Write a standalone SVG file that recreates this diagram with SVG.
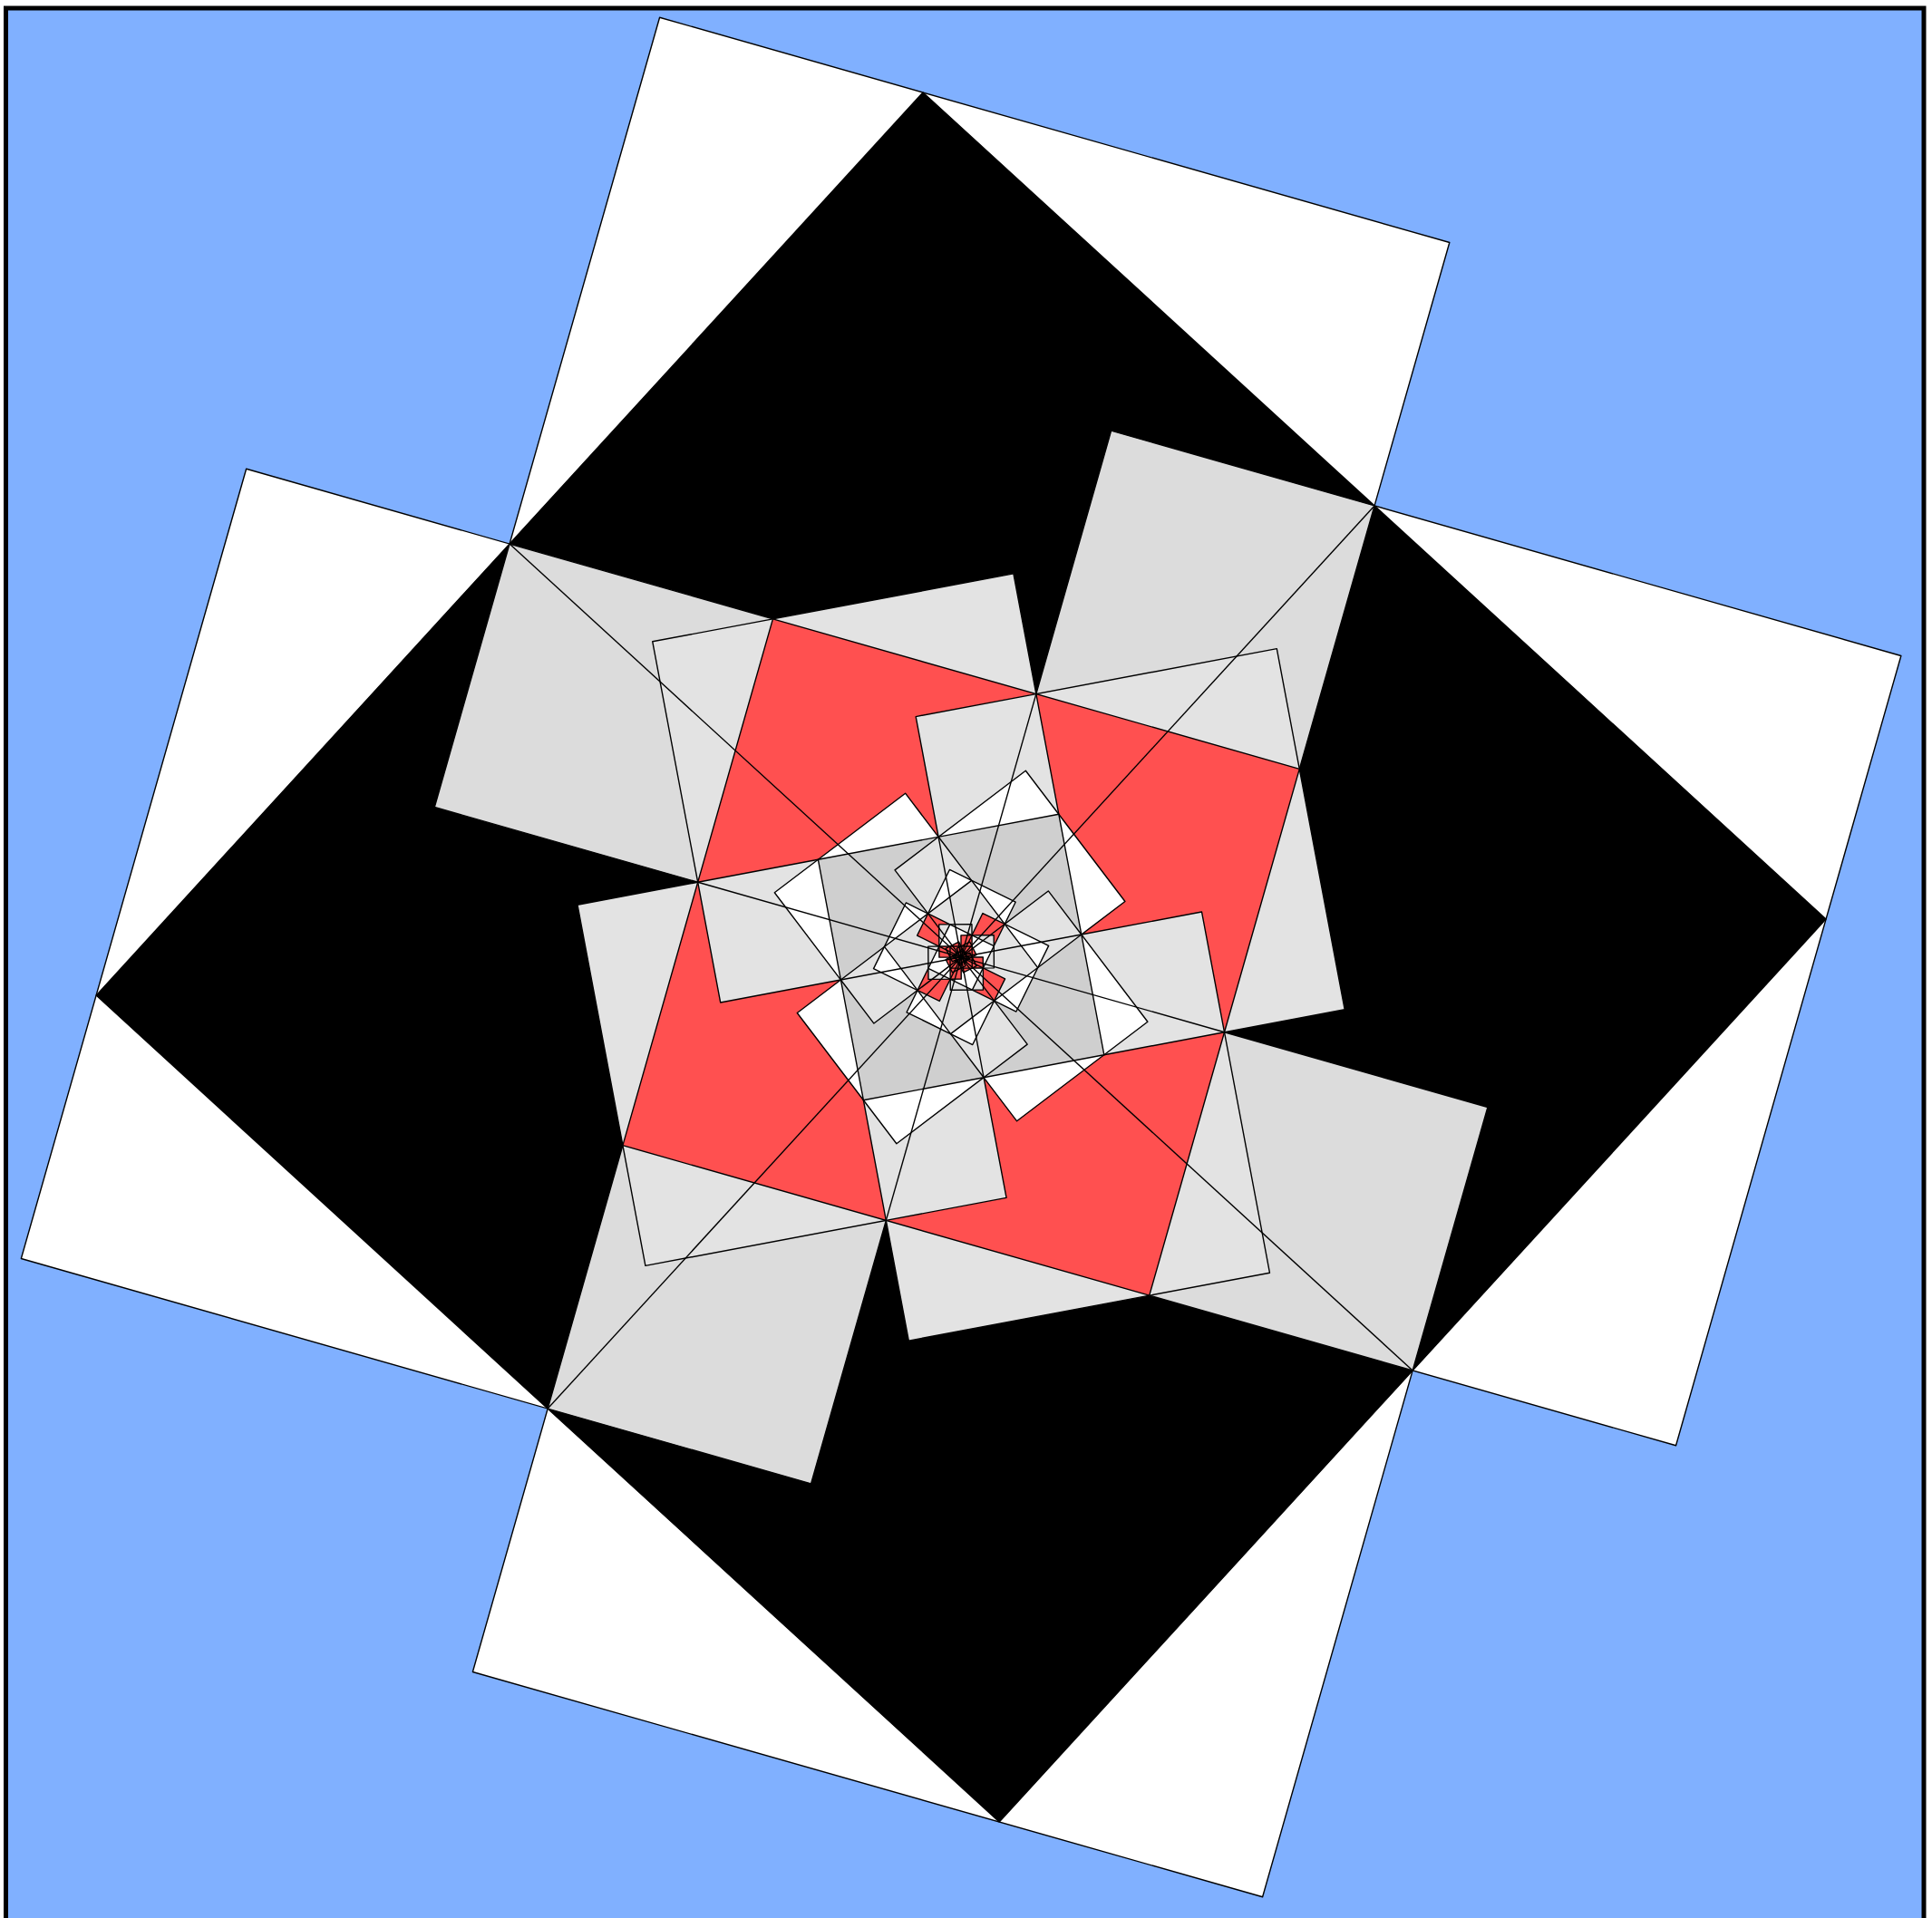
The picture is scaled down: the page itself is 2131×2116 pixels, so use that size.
<svg xmlns="http://www.w3.org/2000/svg" width="2131" height="2116" viewBox="0 0 2131 2116">
<style>
polygon, line { stroke:#000; stroke-width:1.4; vector-effect:non-scaling-stroke; stroke-linejoin:round; }
line { fill:none; }
.w { fill:#ffffff; }
.k { fill:#000000; }
.g { fill:#dcdcdc; }
.l { fill:#e3e3e3; }
.m { fill:#cfcfcf; }
.r { fill:#ff5050; }
</style>
<rect x="0" y="0" width="2131" height="2116" fill="#ffffff"/>
<rect id="frame" x="6.5" y="9" width="2115.5" height="2125" fill="#80b0ff" stroke="#000" stroke-width="5"/>
<g id="level-0" transform="matrix(95.40,-4.21,4.21,95.40,1060.1,1056)">
<polygon class="w" points="-3,-11 6,-8 3,1 -6,-2"/>
<polygon class="w" points="11,-3 8,6 -1,3 2,-6"/>
<polygon class="w" points="3,11 -6,8 -3,-1 6,2"/>
<polygon class="w" points="-11,3 -8,-6 1,-3 -2,6"/>
<polygon class="k" points="0,-10 10,0 0,10 -10,0"/>
<polygon class="g" points="-5,-5 -2,-4 -3,-1 -6,-2"/>
<polygon class="g" points="5,-5 4,-2 1,-3 2,-6"/>
<polygon class="g" points="5,5 2,4 3,1 6,2"/>
<polygon class="g" points="-5,5 -4,2 -1,3 -2,6"/>
</g>
<g id="level-1" transform="matrix(37.318,-20.764,20.764,37.318,1060.1,1056)">
<polygon class="l" points="-3,-11 6,-8 3,1 -6,-2"/>
<polygon class="l" points="11,-3 8,6 -1,3 2,-6"/>
<polygon class="l" points="3,11 -6,8 -3,-1 6,2"/>
<polygon class="l" points="-11,3 -8,-6 1,-3 -2,6"/>
<polygon class="r" points="0,-10 10,0 0,10 -10,0"/>
<polygon class="l" points="-5,-5 -2,-4 -3,-1 -6,-2"/>
<polygon class="l" points="5,-5 4,-2 1,-3 2,-6"/>
<polygon class="l" points="5,5 2,4 3,1 6,2"/>
<polygon class="l" points="-5,5 -4,2 -1,3 -2,6"/>
</g>
<g id="level-2" transform="matrix(10.774,-15.769,15.769,10.774,1060.1,1056)">
<polygon class="w" points="-3,-11 6,-8 3,1 -6,-2"/>
<polygon class="w" points="11,-3 8,6 -1,3 2,-6"/>
<polygon class="w" points="3,11 -6,8 -3,-1 6,2"/>
<polygon class="w" points="-11,3 -8,-6 1,-3 -2,6"/>
<polygon class="m" points="0,-10 10,0 0,10 -10,0"/>
<polygon class="l" points="-5,-5 -2,-4 -3,-1 -6,-2"/>
<polygon class="l" points="5,-5 4,-2 1,-3 2,-6"/>
<polygon class="l" points="5,5 2,4 3,1 6,2"/>
<polygon class="l" points="-5,5 -4,2 -1,3 -2,6"/>
</g>
<g id="level-3" transform="matrix(1.1558,-8.4624,8.4624,1.1558,1060.1,1056)">
<polygon class="w" points="-3,-11 6,-8 3,1 -6,-2"/>
<polygon class="w" points="11,-3 8,6 -1,3 2,-6"/>
<polygon class="w" points="3,11 -6,8 -3,-1 6,2"/>
<polygon class="w" points="-11,3 -8,-6 1,-3 -2,6"/>
<polygon class="l" points="0,-10 10,0 0,10 -10,0"/>
<polygon class="r" points="-5,-5 -2,-4 -3,-1 -6,-2"/>
<polygon class="r" points="5,-5 4,-2 1,-3 2,-6"/>
<polygon class="r" points="5,5 2,4 3,1 6,2"/>
<polygon class="r" points="-5,5 -4,2 -1,3 -2,6"/>
</g>
<g id="level-4" transform="matrix(-1.2302,-3.6161,3.6161,-1.2302,1060.1,1056)">
<polygon class="l" points="-3,-11 6,-8 3,1 -6,-2"/>
<polygon class="l" points="11,-3 8,6 -1,3 2,-6"/>
<polygon class="l" points="3,11 -6,8 -3,-1 6,2"/>
<polygon class="l" points="-11,3 -8,-6 1,-3 -2,6"/>
<polygon class="w" points="0,-10 10,0 0,10 -10,0"/>
<polygon class="r" points="-5,-5 -2,-4 -3,-1 -6,-2"/>
<polygon class="r" points="5,-5 4,-2 1,-3 2,-6"/>
<polygon class="r" points="5,5 2,4 3,1 6,2"/>
<polygon class="r" points="-5,5 -4,2 -1,3 -2,6"/>
</g>
<g id="level-5" transform="matrix(-1.2153,-1.2004,1.2004,-1.2153,1060.1,1056)">
<polygon class="r" points="-3,-11 6,-8 3,1 -6,-2"/>
<polygon class="r" points="11,-3 8,6 -1,3 2,-6"/>
<polygon class="r" points="3,11 -6,8 -3,-1 6,2"/>
<polygon class="r" points="-11,3 -8,-6 1,-3 -2,6"/>
<polygon class="r" points="0,-10 10,0 0,10 -10,0"/>
<polygon class="r" points="-5,-5 -2,-4 -3,-1 -6,-2"/>
<polygon class="r" points="5,-5 4,-2 1,-3 2,-6"/>
<polygon class="r" points="5,5 2,4 3,1 6,2"/>
<polygon class="r" points="-5,5 -4,2 -1,3 -2,6"/>
</g>
<g id="level-6" transform="matrix(-0.7262,-0.2371,0.2371,-0.7262,1060.1,1056)">
<polygon class="r" points="-3,-11 6,-8 3,1 -6,-2"/>
<polygon class="r" points="11,-3 8,6 -1,3 2,-6"/>
<polygon class="r" points="3,11 -6,8 -3,-1 6,2"/>
<polygon class="r" points="-11,3 -8,-6 1,-3 -2,6"/>
<polygon class="r" points="0,-10 10,0 0,10 -10,0"/>
</g>
<g id="connectors">
<g transform="matrix(95.40,-4.21,4.21,95.40,1060.1,1056)"><line x1="-5" y1="-5" x2="5" y2="5"/><line x1="5" y1="-5" x2="-5" y2="5"/></g>
<g transform="matrix(37.318,-20.764,20.764,37.318,1060.1,1056)"><line x1="-5" y1="-5" x2="5" y2="5"/><line x1="5" y1="-5" x2="-5" y2="5"/></g>
<g transform="matrix(10.774,-15.769,15.769,10.774,1060.1,1056)"><line x1="-5" y1="-5" x2="5" y2="5"/><line x1="5" y1="-5" x2="-5" y2="5"/></g>
<g transform="matrix(1.1558,-8.4624,8.4624,1.1558,1060.1,1056)"><line x1="-5" y1="-5" x2="5" y2="5"/><line x1="5" y1="-5" x2="-5" y2="5"/></g>
<g transform="matrix(-1.2302,-3.6161,3.6161,-1.2302,1060.1,1056)"><line x1="-5" y1="-5" x2="5" y2="5"/><line x1="5" y1="-5" x2="-5" y2="5"/></g>
<g transform="matrix(-1.2153,-1.2004,1.2004,-1.2153,1060.1,1056)"><line x1="-5" y1="-5" x2="5" y2="5"/><line x1="5" y1="-5" x2="-5" y2="5"/></g>
</g>
</svg>
